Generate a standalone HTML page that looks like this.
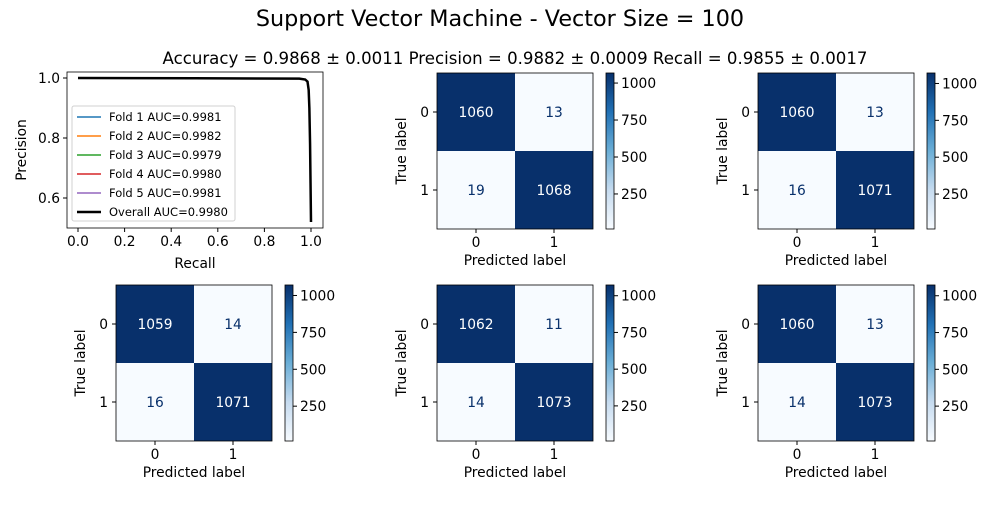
<!DOCTYPE html>
<html><head><meta charset="utf-8"><style>
body{margin:0;background:#fff;}
svg text{font-family:"DejaVu Sans","Liberation Sans",sans-serif;fill:#000;}
</style></head><body>
<svg id="fig" width="1000" height="500" xmlns="http://www.w3.org/2000/svg">
<text x="500" y="26" font-size="22.3" text-anchor="middle">Support Vector Machine - Vector Size = 100</text>
<text x="515" y="64" font-size="16.6" text-anchor="middle">Accuracy = 0.9868 ± 0.0011 Precision = 0.9882 ± 0.0009 Recall = 0.9855 ± 0.0017</text>
<g id="pr"></g>
<g id="cms"></g>
</svg>
<script>
const prRecall=[0,0.5,0.95,0.975,0.985,0.99,0.993,0.996,0.998,1.0];
const prPrecision=[1,0.999,0.998,0.995,0.988,0.96,0.9,0.78,0.65,0.52];
const xTicks=[0,0.2,0.4,0.6,0.8,1.0];
const yTicks=[0.6,0.8,1.0];
const legendLabels=["Fold 1 AUC=0.9981","Fold 2 AUC=0.9982","Fold 3 AUC=0.9979","Fold 4 AUC=0.9980","Fold 5 AUC=0.9981","Overall AUC=0.9980"];
const legendColors=["#1f77b4","#ff7f0e","#2ca02c","#d62728","#9467bd","#000"];
const cmValues=[[1060,13,19,1068],[1060,13,16,1071],[1059,14,16,1071],[1062,11,14,1073],[1060,13,14,1073]];
const cbTicks=[250,500,750,1000];
const NS="http://www.w3.org/2000/svg";
const FS=13.8;
function mk(p,t,a,txt){const e=document.createElementNS(NS,t);for(const k in a)e.setAttribute(k,a[k]);if(txt!==undefined)e.textContent=txt;p.appendChild(e);return e;}
const pr=document.getElementById('pr');
const L=67,R=323,T=72,B=228;
const sx=v=>78+v*(311-78), sy=v=>78+(1-v)*(138-78)/0.2;
mk(pr,'rect',{x:L,y:T,width:R-L,height:B-T,fill:'#fff',stroke:'#000','stroke-width':0.8});
xTicks.forEach(t=>{const x=sx(t);mk(pr,'line',{x1:x,x2:x,y1:B,y2:B+4,stroke:'#000'});
 const e=mk(pr,'text',{x:x,y:B+18,'font-size':FS,'text-anchor':'middle'},t.toFixed(1));
 });
yTicks.forEach(t=>{const y=sy(t);mk(pr,'line',{x1:L-4,x2:L,y1:y,y2:y,stroke:'#000'});
 const e=mk(pr,'text',{x:L-7,y:y+5,'font-size':FS,'text-anchor':'end'},t.toFixed(1));
 });
let xl=mk(pr,'text',{x:195,y:268,'font-size':FS,'text-anchor':'middle'},'Recall');

let yl=mk(pr,'text',{x:26,y:150,'font-size':FS,'text-anchor':'middle',transform:'rotate(-90 26 150)'},'Precision');

const pts=prRecall.map((r,i)=>sx(r)+','+sy(prPrecision[i])).join(' ');
legendColors.forEach((c,i)=>{const pl=mk(pr,'polyline',{points:pts,fill:'none',stroke:c,'stroke-width':i==5?2.5:1.5});
 });
const lg=mk(pr,'g',{});

mk(lg,'rect',{x:72,y:106,width:163,height:115,fill:'#fff',stroke:'#ccc',rx:2,opacity:0.9});
legendLabels.forEach((s,i)=>{const y=117+i*19;
 mk(lg,'line',{x1:77,x2:101,y1:y,y2:y,stroke:legendColors[i],'stroke-width':i==5?2.5:1.5});
 const e=mk(lg,'text',{x:109,y:y+4,'font-size':11.5},s);
 });
const cms=document.getElementById('cms');
const pos=[[437,73],[758,73],[116,285],[437,285],[758,285]];
const dark='#08306b',light='#f7fbff';
cmValues.forEach((v,k)=>{
 const [x0,y0]=pos[k];const W=156,H=156,cw=W/2;
 const g=mk(cms,'g',{});
 
 const mn=Math.min(...v),mx=Math.max(...v);
 v.forEach((val,i)=>{const r=Math.floor(i/2),c=i%2;const isDark=(val-mn)/(mx-mn)>0.5;
  const rc=mk(g,'rect',{x:x0+c*cw,y:y0+r*cw,width:cw,height:cw,fill:isDark?dark:light});
  
  const t=mk(g,'text',{x:x0+c*cw+cw/2,y:y0+r*cw+cw/2+5,'font-size':FS,'text-anchor':'middle',style:'fill:'+(isDark?'#fff':dark)},val);
  });
 mk(g,'rect',{x:x0,y:y0,width:W,height:H,fill:'none',stroke:'#000','stroke-width':0.8});
 [0,1].forEach(i=>{const cx=x0+i*cw+cw/2;
  mk(g,'line',{x1:cx,x2:cx,y1:y0+H,y2:y0+H+4,stroke:'#000'});
  mk(g,'text',{x:cx,y:y0+H+18,'font-size':FS,'text-anchor':'middle'},i);
  const cy=y0+i*cw+cw/2;
  mk(g,'line',{x1:x0-4,x2:x0,y1:cy,y2:cy,stroke:'#000'});
  mk(g,'text',{x:x0-8,y:cy+5,'font-size':FS,'text-anchor':'end'},i);});
 const px=mk(g,'text',{x:x0+W/2,y:y0+H+36,'font-size':FS,'text-anchor':'middle'},'Predicted label');
 
 const ty=x0-31,tc=y0+H/2;
 const tl=mk(g,'text',{x:ty,y:tc,'font-size':FS,'text-anchor':'middle',transform:`rotate(-90 ${ty} ${tc})`},'True label');
 
 const cbx=x0+169,gid='gr'+k;
 const d=mk(g,'defs',{});const lgd=mk(d,'linearGradient',{id:gid,x1:0,y1:1,x2:0,y2:0});
 [['0',light],['0.25','#c6dbef'],['0.5','#6baed6'],['0.75','#2171b5'],['1',dark]].forEach(s=>mk(lgd,'stop',{offset:s[0],'stop-color':s[1]}));
 const cb=mk(g,'rect',{x:cbx,y:y0,width:8,height:H,fill:`url(#${gid})`,stroke:'#000','stroke-width':0.8});
 
 cbTicks.forEach(t=>{const y=y0+H-(t-mn)/(mx-mn)*H;
  mk(g,'line',{x1:cbx+8,x2:cbx+12,y1:y,y2:y,stroke:'#000'});
  const e=mk(g,'text',{x:cbx+15,y:y+5,'font-size':FS},t);
  });
});
</script>
</body></html>
